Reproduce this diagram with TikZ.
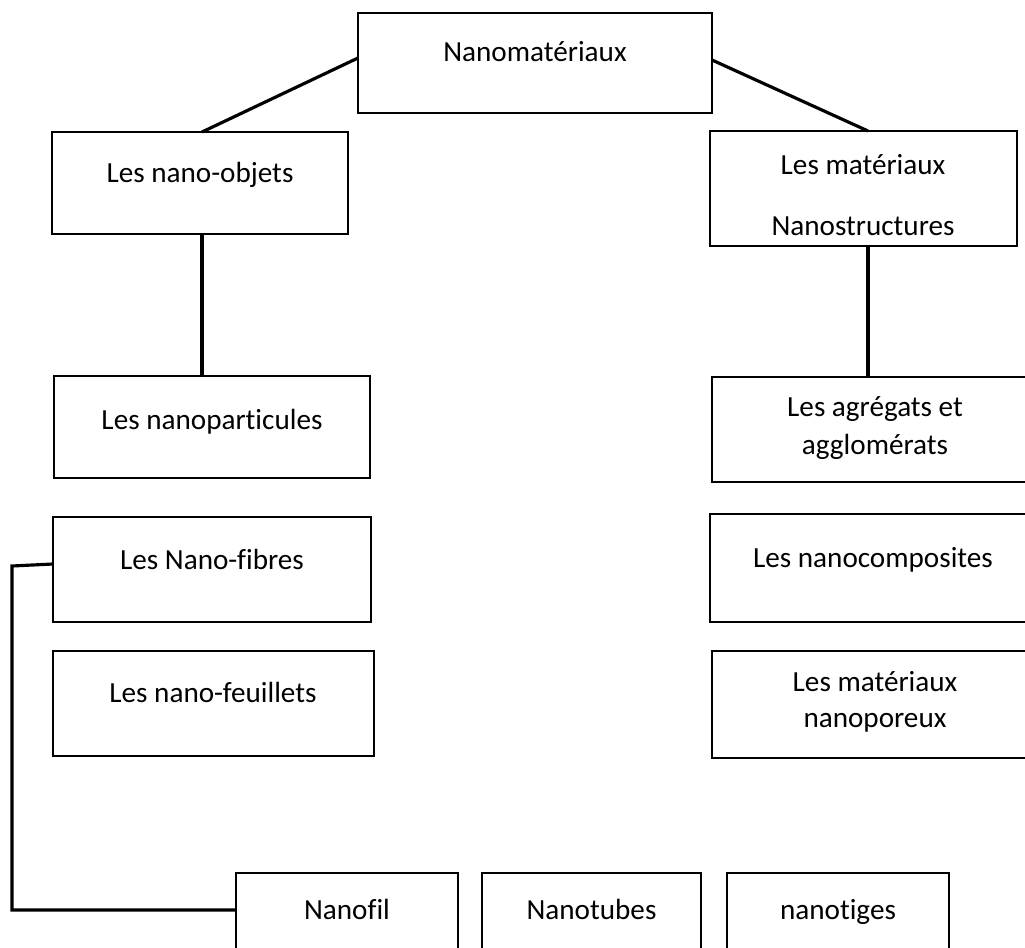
\documentclass[tikz,border=0pt]{standalone}
\usepackage{fontspec}
\setmainfont{Carlito}[Ligatures=NoCommon]
\usetikzlibrary{calc}
\tikzset{
  box/.style={draw=black, line width=1.1pt, fill=white, inner sep=0pt, outer sep=0pt, anchor=north west},
  txt/.style={font=\fontsize{16.6}{20}\selectfont, inner sep=0pt, anchor=center, text height=0.62em, text depth=0.2em, yshift=-0.11cm},
  link/.style={draw=black, line width=1.8pt}
}
\begin{document}
\begin{tikzpicture}
\useasboundingbox (0,0) rectangle (20.5,-18.94);
\clip (0,0) rectangle (20.5,-18.94);
% boxes
\node[box, minimum width=7.08cm, minimum height=2.00cm] (nm)   at (7.16,-0.26) {};
\node[box, minimum width=5.92cm, minimum height=2.04cm] (obj)  at (1.04,-2.64) {};
\node[box, minimum width=6.14cm, minimum height=2.30cm] (mat)  at (14.20,-2.62) {};
\node[box, minimum width=6.32cm, minimum height=2.04cm] (part) at (1.08,-7.52) {};
\node[box, minimum width=6.36cm, minimum height=2.10cm] (fib)  at (1.06,-10.34) {};
\node[box, minimum width=6.42cm, minimum height=2.10cm] (feu)  at (1.06,-13.02) {};
\node[box, minimum width=6.60cm, minimum height=2.10cm] (agr)  at (14.24,-7.54) {};
\node[box, minimum width=6.60cm, minimum height=2.16cm] (comp) at (14.20,-10.28) {};
\node[box, minimum width=6.60cm, minimum height=2.14cm] (por)  at (14.24,-13.02) {};
\node[box, minimum width=4.44cm, minimum height=2.00cm] (fil)  at (4.72,-17.46) {};
\node[box, minimum width=4.38cm, minimum height=2.00cm] (tub)  at (9.64,-17.46) {};
\node[box, minimum width=4.44cm, minimum height=2.00cm] (tig)  at (14.54,-17.46) {};
% texts
\node[txt] (tnm)   at (10.70,-1.04) {Nanomatériaux};
\node[txt] (tobj)  at (4.00,-3.46) {Les nano-objets};
\node[txt] (tmat1) at (17.26,-3.30) {Les matériaux};
\node[txt] (tmat2) at (17.26,-4.52) {Nanostructures};
\node[txt] (tpart) at (4.24,-8.40) {Les nanoparticules};
\node[txt] (tfib)  at (4.24,-11.20) {Les Nano-fibres};
\node[txt] (tfeu)  at (4.26,-13.86) {Les nano-feuillets};
\node[txt] (tagr1) at (17.50,-8.14) {Les agrégats et};
\node[txt] (tagr2) at (17.50,-8.90) {agglomérats};
\node[txt] (tcomp) at (17.46,-11.16) {Les nanocomposites};
\node[txt] (tpor1) at (17.50,-13.64) {Les matériaux};
\node[txt] (tpor2) at (17.50,-14.36) {nanoporeux};
\node[txt] (tfil)  at (6.94,-18.20) {Nanofil};
\node[txt] (ttub)  at (11.83,-18.20) {Nanotubes};
\node[txt] (ttig)  at (16.76,-18.20) {nanotiges};
% connectors
\draw[link] ([yshift=0.10cm]nm.west) -- ([xshift=0.04cm]obj.north);
\draw[link] ([yshift=0.06cm]nm.east) -- ([xshift=0.09cm]mat.north);
\draw[link] ([xshift=0.04cm]obj.south) -- ([xshift=0.04cm]obj.south |- part.north);
\draw[link] ([xshift=0.09cm]mat.south) -- ([xshift=0.09cm]mat.south |- agr.north);
\coordinate (c1) at (0.24,-11.32);
\coordinate (c2) at (0.24,-18.20);
\draw[link] ([yshift=0.11cm]fib.west) -- (c1) -- (c2) -- (c2 -| fil.west);
\end{tikzpicture}
\end{document}
